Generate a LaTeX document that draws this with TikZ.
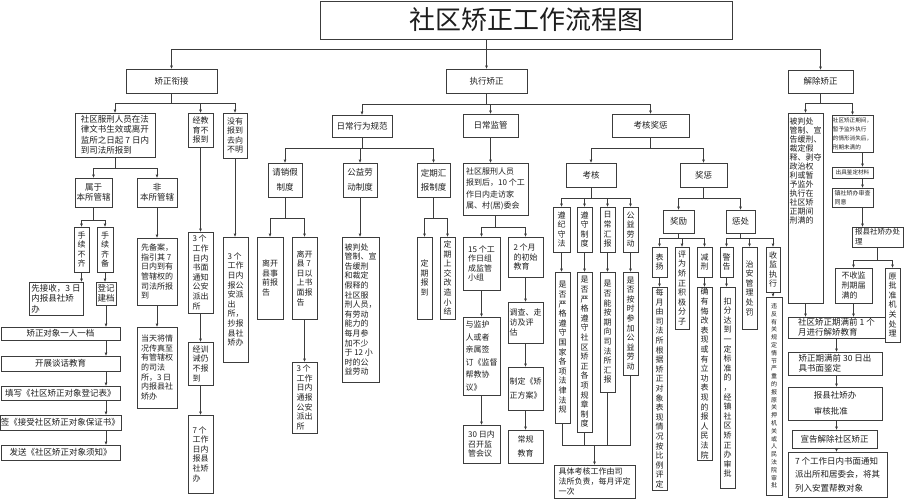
\documentclass[tikz,border=0pt]{standalone}
\usepackage{fontspec}
\setmainfont{Noto Sans CJK SC}
\usepackage{tikz}
\usetikzlibrary{arrows.meta, calc}
\definecolor{my_linegray}{HTML}{3C3C3C}
\definecolor{my_textgray}{HTML}{1E1E1E}
% box given by its corners (x1,y1) (x2,y2), y counted downwards
\newcommand{\bx}[7][]{%
  \node[box, #1, minimum width={#5-#3}, minimum height={#6-#4}]
    (#2) at ({(#3+#5)/2},{(#4+#6)/2}) {#7};}

\begin{document}
\begin{tikzpicture}[
    x=1pt, y=-1pt,  % one unit = one pixel of the sheet, y downwards
    box/.style={draw=my_linegray, line width=0.6pt, inner sep=1pt, align=center,
        text=my_textgray, font=\fontsize{8.5}{10.5}\selectfont},
    para/.style={align=left},
    col/.style={font=\fontsize{8}{9.6}\selectfont},
    tinytext/.style={font=\fontsize{6}{7.8}\selectfont},
    sidetext/.style={font=\fontsize{5.6}{9}\selectfont},
    arr/.style={draw=my_linegray, line width=0.6pt, -{Triangle[length=3pt,width=2.4pt]}},
    link/.style={draw=my_linegray, line width=0.6pt},
]
\useasboundingbox (0,0) rectangle (915,500);

% ── Title and first level ────────────────────────────────────────────────────
\bx[font=\fontsize{26}{30}\selectfont]{title}{320}{1}{732}{39}{社区矫正工作流程图}
\bx{xj}{126}{69}{217}{93}{矫正衔接}
\bx{zx}{446}{69}{527}{93}{执行矫正}
\bx{jj}{788}{70}{853}{93}{解除矫正}

% ── 矫正衔接 branch ──────────────────────────────────────────────────────────
\bx[para]{a1}{75}{113}{155}{157}{社区服刑人员在法\\律文书生效或离开\\监所之日起 7 日内\\到司法所报到}
\bx{b1}{75}{178}{112}{207}{属于\\本所管辖}
\bx{b2}{137}{178}{177}{207}{非\\本所管辖}
\bx[col]{c1}{74}{227}{89}{272}{手\\续\\不\\齐}
\bx[col]{c2}{97}{227}{113}{272}{手\\续\\齐\\备}
\bx[para]{d1}{29}{282}{83}{315}{先接收，3 日\\内报县社矫\\办}
\bx{d2}{96}{282}{116}{305}{登记\\建档}
\bx{e1}{1}{327}{120}{340}{矫正对象一人一档}
\bx{e2}{1}{356}{120}{371}{开展谈话教育}
\bx{e3}{1}{386}{120}{400}{填写《社区矫正对象登记表》}
\bx{e4}{1}{415}{120}{430}{签《接受社区矫正对象保证书》}
\bx{e5}{1}{445}{120}{460}{发送《社区矫正对象须知》}
\bx[col,para]{f1}{137}{238}{177}{305}{先备案，\\指引其 7\\日内到有\\管辖权的\\司法所报\\到}
\bx[col,para]{f2}{137}{327}{177}{408}{当天将情\\况传真至\\有管辖权\\的司法\\所，3 日\\内报县社\\矫办}
\bx[col]{g1}{188}{113}{213}{147}{经教\\育不\\报到}
\bx[col,para]{g2}{188}{232}{213}{313}{3 个\\工作\\日内\\书面\\通知\\公安\\派出\\所}
\bx[col,para]{g3}{188}{342}{213}{385}{经训\\诫仍\\不报\\到}
\bx[col,para]{g4}{188}{415}{213}{493}{7 个\\工作\\日内\\报县\\社矫\\办}
\bx[col]{h1}{223}{113}{247}{158}{没有\\报到\\去向\\不明}
\bx[col,para]{h2}{223}{237}{248}{362}{3 个\\工作\\日内\\报公\\安派\\出\\所，\\抄报\\县社\\矫办}

% ── 执行矫正: 日常行为规范 ───────────────────────────────────────────────────
\bx{rc}{332}{115}{392}{137}{日常行为规范}
\bx{qx}{268}{163}{302}{197}{请销假\\[4pt]制度}
\bx{gy}{343}{163}{377}{197}{公益劳\\[4pt]动制度}
\bx{dq}{417}{163}{450}{197}{定期汇\\[4pt]报制度}
\bx[col,para]{lk1}{257}{237}{283}{319}{离开\\县事\\前报\\告}
\bx[col,para]{lk2}{292}{237}{317}{319}{离开\\县 7\\日以\\上书\\面报\\告}
\bx[col,para]{tb}{292}{362}{317}{433}{3 个\\工作\\日内\\通报\\公安\\派出\\所}
\bx[col,para]{gyt}{342}{237}{379}{382}{被判处\\管制、宣\\告缓刑\\和裁定\\假释的\\社区服\\刑人员，\\有劳动\\能力的\\每月参\\加不少\\于 12 小\\时的公\\益劳动}
\bx[col]{dqb}{417}{237}{432}{319}{定\\期\\报\\到}
\bx[col]{dqx}{440}{237}{455}{319}{定\\期\\上\\交\\改\\造\\小\\结}

% ── 执行矫正: 日常监管 ───────────────────────────────────────────────────────
\bx{jg}{463}{114}{518}{137}{日常监管}
\bx[col,para]{zf}{463}{163}{528}{215}{社区服刑人员\\[2pt]报到后，10 个工\\[2pt]作日内走访家\\[2pt]属、村(居)委会}
\bx[col,para]{x15}{463}{237}{500}{290}{15 个工\\作日组\\成监管\\小组}
\bx[col,para]{m2}{508}{237}{543}{277}{2 个月\\的初始\\教育}
\bx[col,para]{jd}{463}{317}{500}{395}{与监护\\[3pt]人或者\\[3pt]亲属签\\[3pt]订《监督\\[3pt]帮教协\\[3pt]议》}
\bx[col,para]{hy}{463}{425}{500}{463}{30 日内\\召开监\\管会议}
\bx[col,para]{dc}{508}{302}{543}{343}{调查、走\\访及评\\估}
\bx[col,para]{zd}{508}{367}{543}{410}{制定《矫\\[4pt]正方案》}
\bx[col]{cg}{508}{430}{543}{463}{常规\\[4pt]教育}

% ── 执行矫正: 考核奖惩 ───────────────────────────────────────────────────────
\bx{kh}{612}{114}{689}{137}{考核奖惩}
\bx{kh2}{566}{163}{616}{187}{考核}
\bx{jc}{680}{163}{727}{187}{奖惩}
\bx[col]{z1}{553}{207}{570}{252}{遵\\纪\\守\\法}
\bx[col]{z2}{577}{207}{592}{252}{遵\\守\\制\\度}
\bx[col]{z3}{600}{207}{615}{252}{日\\常\\汇\\报}
\bx[col]{z4}{623}{207}{638}{252}{公\\益\\劳\\动}
\bx[col]{s1}{555}{272}{570}{423}{是\\否\\严\\格\\遵\\守\\国\\家\\各\\项\\法\\律\\法\\规}
\bx[col]{s2}{577}{272}{592}{432}{是\\否\\严\\格\\遵\\守\\社\\区\\矫\\正\\各\\项\\规\\章\\制\\度}
\bx[col]{s3}{600}{272}{615}{392}{是\\否\\能\\按\\期\\向\\司\\法\\所\\汇\\报}
\bx[col]{s4}{623}{272}{638}{375}{是\\否\\按\\时\\参\\加\\公\\益\\劳\\动}
\bx[col,para]{fin}{554}{465}{635}{498}{具体考核工作由司\\法所负责，每月评定\\一次}
\bx{jl}{663}{210}{694}{233}{奖励}
\bx{cc}{726}{210}{755}{233}{惩处}
\bx[col]{by}{652}{247}{667}{277}{表\\扬}
\bx[col]{pw}{675}{247}{689}{329}{评\\为\\矫\\正\\积\\极\\分\\子}
\bx[col]{jx}{697}{247}{712}{277}{减\\刑}
\bx[col]{jgao}{720}{247}{733}{277}{警\\告}
\bx[col]{za}{742}{247}{757}{329}{治\\安\\管\\理\\处\\罚}
\bx[col]{sj}{766}{247}{780}{292}{收\\监\\执\\行}
\bx[col]{mr}{652}{287}{667}{490}{每\\月\\由\\司\\法\\所\\根\\据\\矫\\正\\对\\象\\表\\现\\情\\况\\按\\比\\例\\评\\定}
\bx[col]{qy}{697}{287}{712}{460}{确\\有\\悔\\改\\表\\现\\或\\有\\立\\功\\表\\现\\的\\报\\人\\民\\法\\院}
\bx[col]{kf}{720}{287}{735}{488}{扣\\分\\达\\到\\一\\定\\标\\准\\的\\，\\经\\镇\\社\\区\\矫\\正\\办\\审\\批}
\bx[tinytext]{wf}{766}{297}{782}{495}{违\\反\\有\\关\\规\\定\\情\\节\\严\\重\\的\\报\\原\\关\\押\\机\\关\\或\\人\\民\\法\\院\\审\\批}

% ── 解除矫正 branch ──────────────────────────────────────────────────────────
\bx{bp}{788}{113}{823}{303}{}
\node[box, draw=none, para, font=\fontsize{8}{9}\selectfont, anchor=north]
    (bptext) at ([yshift=-4]bp.north)
    {被判处\\管制、宣\\告缓刑、\\裁定假\\释、剥夺\\政治权\\利或暂\\予监外\\执行在\\社区矫\\正期间\\刑满的};
\bx[sidetext,para]{sq}{832}{115}{873}{152}{社区矫正期间，\\暂予监外执行\\的情形消失后，\\刑期未满的}
\bx[sidetext]{cj}{832}{167}{873}{178}{出具鉴定材料}
\bx[sidetext,para,font=\fontsize{6}{9}\selectfont]{zs}{832}{188}{873}{207}{镇社矫办审查\\同意}
\bx[para,font=\fontsize{7.5}{10}\selectfont]{bx}{852}{227}{903}{247}{报县社矫办处\\理}
\bx[col,para]{bj}{835}{268}{872}{303}{不收监\\刑期届\\满的}
\bx[col]{yp}{885}{268}{900}{342}{原\\批\\准\\机\\关\\处\\理}
\bx[para]{jy}{788}{317}{885}{338}{社区矫正期满前 1 个\\月进行解矫教育}
\bx[para]{sd}{788}{352}{882}{375}{矫正期满前 30 日出\\具书面鉴定}
\bx[para]{bh}{788}{387}{882}{420}{报县社矫办\\[5pt]审核批准}
\bx{xg}{792}{430}{877}{448}{宣告解除社区矫正}
\bx[para]{tz}{788}{452}{887}{497}{7 个工作日内书面通知\\[3pt]派出所和居委会，将其\\[3pt]列入安置帮教对象}

% ── Connectors: top level ────────────────────────────────────────────────────
\path (title.south -| zx.north) ++(0,10) coordinate (hub);
\draw[arr] (title.south -| zx.north) -- (zx.north);
\draw[arr] (hub) -| (xj.north);
\draw[arr] (hub) -| (jj.north);

% ── Connectors: 矫正衔接 ─────────────────────────────────────────────────────
\foreach \nd in {a1,g1,h1} \draw[arr] (xj.south) -- ++(0,10) -| (\nd.north);
\foreach \nd in {b1,b2} \draw[arr] (a1.south) -- ++(0,11) -| (\nd.north);
\foreach \nd in {c1,c2} \draw[arr] (b1.south) -- ++(0,13) -| (\nd.north);
\foreach \a/\b in {c1/d1,c2/d2,d2/e1,b2/f1,f1/f2,g1/g2,g2/g3,g3/g4,h1/h2}
    \draw[arr] (\a.south) -- (\a.south |- \b.north);
\foreach \a/\b in {e1/e2,e2/e3,e3/e4,e4/e5}
    \draw[arr] (\a.south -| d2.south) -- (\b.north -| d2.south);

% ── Connectors: 执行矫正 ─────────────────────────────────────────────────────
\foreach \nd in {rc,jg,kh} \draw[arr] (zx.south) -- ++(0,11) -| (\nd.north);
\foreach \nd in {qx,gy,dq} \draw[arr] (rc.south) -- ++(0,11) -| (\nd.north);
\foreach \nd in {lk1,lk2} \draw[arr] (qx.south) -- ++(0,21) -| (\nd.north);
\foreach \nd in {dqb,dqx} \draw[arr] (dq.south) -- ++(0,21) -| (\nd.north);
\foreach \nd in {x15,m2} \draw[arr] (zf.south) -- ++(0,12) -| (\nd.north);
\foreach \nd in {kh2,jc} \draw[arr] (kh.south) -- ++(0,11) -| (\nd.north);
\foreach \nd in {z1,z2,z3,z4} \draw[arr] (kh2.south) -- ++(0,11) -| (\nd.north);
\foreach \nd in {jl,cc} \draw[arr] (jc.south) -- ++(0,11) -| (\nd.north);
\foreach \nd in {by,pw,jx} \draw[arr] (jl.south) -- ++(0,5) -| (\nd.north);
\foreach \nd in {jgao,za,sj} \draw[arr] (cc.south) -- ++(0,5) -| (\nd.north);
\foreach \a/\b in {lk2/tb,gy/gyt,jg/zf,x15/jd,jd/hy,m2/dc,dc/zd,zd/cg,
                   z1/s1,z2/s2,z3/s3,z4/s4,by/mr,jx/qy,jgao/kf,sj/wf}
    \draw[arr] (\a.south) -- (\a.south |- \b.north);
% four checks merge into one monthly result
\path (fin.north) ++(0,-19) coordinate (merge);
\foreach \nd in {s1,s2,s3,s4} \draw[link] (\nd.south) |- (merge);
\draw[arr] (merge) -- (fin.north);

% ── Connectors: 解除矫正 ─────────────────────────────────────────────────────
\foreach \nd in {bp,sq} \draw[arr] (jj.south) -- ++(0,10) -| (\nd.north);
\foreach \a/\b in {sq/cj,cj/zs,zs/bx}
    \draw[arr] ([xshift=10]\a.south) -- ([xshift=10]\a.south |- \b.north);
\foreach \nd in {bj,yp} \draw[arr] (bx.south) -- ++(0,13) -| (\nd.north);
\draw[arr] (bp.south) -- (bp.south |- jy.north);
\draw[arr] (bj.south) -- (bj.south |- jy.north);
\foreach \a/\b in {jy/sd,sd/bh,bh/xg,xg/tz}
    \draw[arr] (\a.south -| jy.south) -- (\b.north -| jy.south);

\end{tikzpicture}
\end{document}
